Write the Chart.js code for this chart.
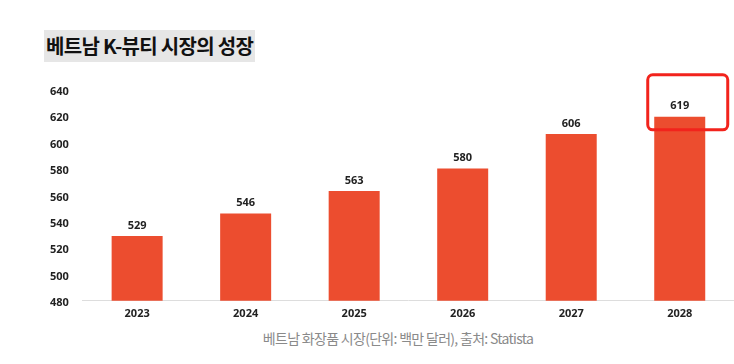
<!DOCTYPE html>
<html>
<head>
<meta charset="utf-8">
<script src="https://cdn.jsdelivr.net/npm/chart.js@4"></script>
<style>
  html, body { margin: 0; padding: 0; background: #fff; }
  body { width: 734px; height: 364px; position: relative; overflow: hidden; font-family: "Noto Sans CJK KR", "Noto Sans", sans-serif; }
  #title { position: absolute; left: 44px; top: 30px; height: 32px; line-height: 32px; padding: 0 2px; background: #e6e6e6; font-size: 20px; font-weight: 700; color: #111; letter-spacing: -0.7px; }
  #wrap { position: absolute; left: 0; top: 64px; width: 734px; height: 262px; }
  #caption { position: absolute; left: 0; width: 796px; top: 328px; text-align: center; font-size: 14px; color: #8a8a8a; letter-spacing: -0.7px; }
</style>
</head>
<body>
<div id="title">베트남 K-뷰티 시장의 성장</div>
<div id="wrap"><canvas id="chart"></canvas></div>
<div id="caption">베트남 화장품 시장(단위: 백만 달러), 출처: Statista</div>
<script>
const years = ['2023', '2024', '2025', '2026', '2027', '2028'];
const marketSize = [529, 546, 563, 580, 606, 619];
const yTicks = [480, 500, 520, 540, 560, 580, 600, 620, 640];

// 막대 위 숫자
const valueLabels = {
  id: 'valueLabels',
  afterDatasetsDraw(chart) {
    const ctx = chart.ctx;
    const meta = chart.getDatasetMeta(0);
    ctx.save();
    ctx.font = '700 11px "Open Sans", sans-serif';
    ctx.fillStyle = '#222';
    ctx.textAlign = 'center';
    ctx.textBaseline = 'bottom';
    meta.data.forEach((bar, i) => {
      ctx.fillText(marketSize[i], bar.x, bar.y - 5);
    });
    ctx.restore();
  }
};

// 마지막 해 강조 박스
const highlightBox = {
  id: 'highlightBox',
  afterDraw(chart) {
    const ctx = chart.ctx;
    const meta = chart.getDatasetMeta(0);
    const bar = meta.data[meta.data.length - 1];
    const x = bar.x - 32, y = bar.y - 42, w = 80, h = 55;
    ctx.save();
    ctx.strokeStyle = '#f2231c';
    ctx.lineWidth = 3;
    ctx.beginPath();
    ctx.roundRect(x, y, w, h, 5);
    ctx.stroke();
    ctx.restore();
  }
};

new Chart(document.getElementById('chart'), {
  type: 'bar',
  data: {
    labels: years,
    datasets: [{
      data: marketSize,
      backgroundColor: '#ec4d2f',
      barPercentage: 0.47,
      categoryPercentage: 1
    }]
  },
  plugins: [valueLabels, highlightBox],
  options: {
    responsive: true,
    maintainAspectRatio: false,
    animation: false,
    layout: { padding: { top: 25, right: 0, left: 50, bottom: 0 } },
    plugins: { legend: { display: false }, tooltip: { enabled: false } },
    scales: {
      x: {
        grid: { display: false, drawTicks: false },
        border: { color: '#dddddd' },
        ticks: { color: '#222', font: { family: 'Open Sans', size: 11, weight: '700' }, padding: 6 }
      },
      y: {
        min: 480,
        max: 640,
        afterBuildTicks(axis) { axis.ticks = yTicks.map(v => ({ value: v })); },
        grid: { display: false, drawTicks: false },
        border: { display: false },
        ticks: { color: '#222', font: { family: 'Open Sans', size: 11, weight: '700' }, padding: 7, labelOffset: -3, align: 'start', crossAlign: 'far' }
      }
    }
  }
});
</script>
</body>
</html>
